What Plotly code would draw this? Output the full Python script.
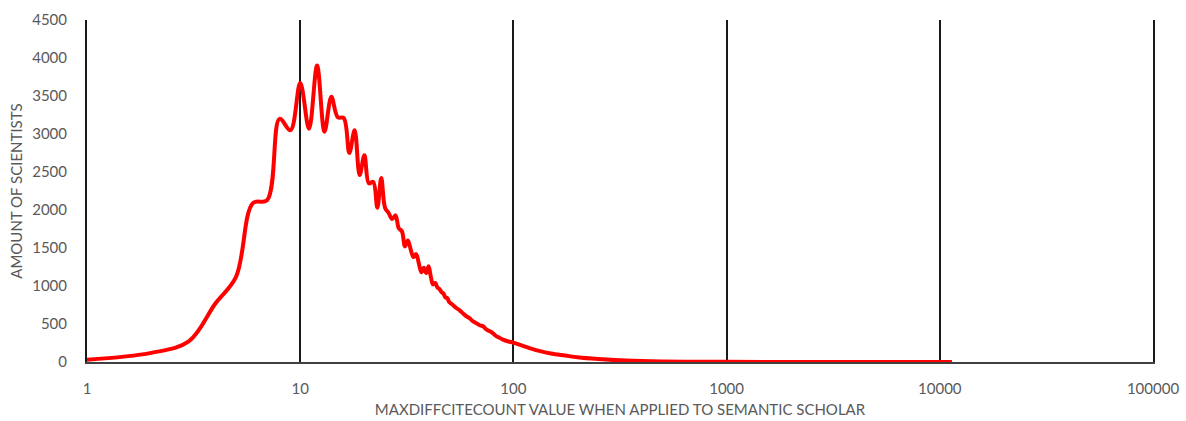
import plotly.graph_objects as go

# Data (x = MaxDiffCiteCount value, y = number of scientists)
x_vals = [1, 2, 3, 4, 5, 6, 7, 8, 9, 10,
          11, 12, 13, 14, 15, 16, 17, 18, 19, 20,
          21, 22, 23, 24, 25, 26, 27, 28, 29, 30,
          31, 32, 33, 34, 35, 36, 37, 38, 39, 40,
          41, 42, 43, 44, 45, 46, 47, 48, 49, 50,
          52, 54, 56, 58, 60, 62, 65, 68, 70, 72,
          75, 78, 80, 83, 86, 90, 95, 100, 110, 120,
          135, 150, 175, 200, 250, 300, 400, 500, 700, 1000,
          2000, 5000, 11400]
y_vals = [30, 120, 270, 770, 1120, 2090, 2130, 3200, 3050, 3670,
          3070, 3900, 3030, 3490, 3220, 3210, 2750, 3050, 2460, 2720,
          2350, 2370, 2030, 2420, 2030, 1960, 1880, 1930, 1760, 1720,
          1520, 1600, 1480, 1380, 1420, 1300, 1180, 1240, 1170, 1260,
          1120, 1020, 1040, 980, 960, 920, 900, 850, 840, 790,
          750, 710, 680, 640, 605, 580, 530, 500, 480, 470,
          425, 400, 380, 340, 320, 290, 270, 255, 215, 180,
          140, 112, 85, 62, 38, 25, 13, 8, 4, 2,
          1, 1, 1]

x_tickvals = [1, 10, 100, 1000, 10000, 100000]
x_ticktext = ["1", "10", "100", "1000", "10000", "100000"]
y_tickvals = [0, 500, 1000, 1500, 2000, 2500, 3000, 3500, 4000, 4500]

x_title = "MAXDIFFCITECOUNT VALUE WHEN APPLIED TO SEMANTIC SCHOLAR"
y_title = "AMOUNT OF SCIENTISTS"

FONT = "Lato"
GRAY = "#595959"

fig = go.Figure()
fig.add_trace(go.Scatter(
    x=x_vals, y=y_vals, mode="lines",
    line=dict(color="#FF0000", width=4, shape="spline", smoothing=1.0),
    cliponaxis=False, showlegend=False, hoverinfo="x+y",
))

fig.update_layout(
    width=1186, height=421,
    margin=dict(l=87, r=33, t=20, b=59),
    paper_bgcolor="white", plot_bgcolor="white",
    font=dict(family=FONT, size=15, color=GRAY),
)
fig.update_xaxes(
    type="log", range=[0, 5], automargin=False,
    tickmode="array", tickvals=x_tickvals, ticktext=x_ticktext,
    showgrid=True, gridcolor="#1a1a1a", gridwidth=2,
    showline=True, linecolor="#404040", linewidth=2,
    zeroline=False, ticks="", ticklabelstandoff=12,
    layer="below traces",
    title=dict(text=x_title, font=dict(family=FONT, size=15, color=GRAY), standoff=8),
)
fig.update_yaxes(
    range=[0, 4500], tickmode="array", tickvals=y_tickvals, automargin=False,
    showgrid=False, zeroline=False,
    showline=True, mirror=True, linecolor="#1a1a1a", linewidth=2,
    ticks="", ticklabelstandoff=15,
    layer="below traces",
    title=dict(text=y_title, font=dict(family=FONT, size=15, color=GRAY), standoff=6),
)

fig.write_html("out.html")
